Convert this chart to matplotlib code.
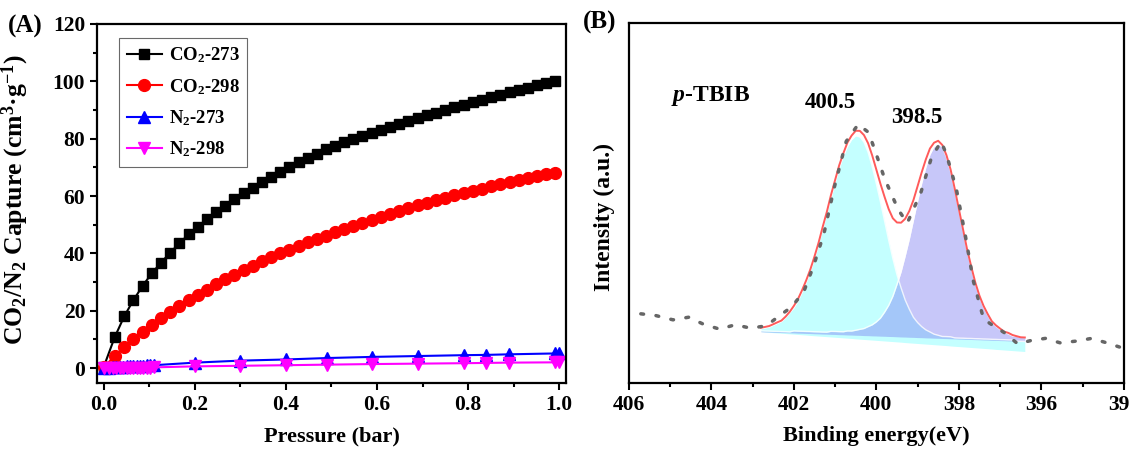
import matplotlib
matplotlib.use("Agg")
import matplotlib.pyplot as plt
from matplotlib.ticker import MultipleLocator

plt.rcParams["font.family"] = "Liberation Serif"
plt.rcParams["font.weight"] = "bold"
plt.rcParams["axes.labelweight"] = "bold"
plt.rcParams["mathtext.fontset"] = "custom"
plt.rcParams["mathtext.rm"] = "Liberation Serif:bold"
plt.rcParams["mathtext.bf"] = "Liberation Serif:bold"
plt.rcParams["mathtext.it"] = "Liberation Serif:italic:bold"

# (A) gas uptake, cm3/g vs bar
p_co2 = [0, 0.024, 0.045, 0.065, 0.085, 0.105, 0.126, 0.146, 0.166, 0.186,
         0.206, 0.226, 0.246, 0.266, 0.287, 0.307, 0.327, 0.347, 0.367, 0.387,
         0.407, 0.428, 0.448, 0.468, 0.488, 0.508, 0.528, 0.548, 0.568, 0.589,
         0.609, 0.629, 0.649, 0.669, 0.690, 0.710, 0.730, 0.750, 0.770, 0.791,
         0.811, 0.831, 0.851, 0.871, 0.892, 0.912, 0.932, 0.952, 0.972, 0.992]
co2_273 = [0.5, 10.8, 18.1, 23.7, 28.6, 33.0, 36.8, 40.3, 43.5, 46.6,
           49.3, 51.9, 54.4, 56.6, 58.9, 61.0, 62.9, 64.9, 66.7, 68.4,
           70.1, 71.7, 73.2, 74.8, 76.3, 77.6, 78.8, 79.9, 81.0, 82.1,
           83.2, 84.2, 85.2, 86.2, 87.2, 88.2, 89.1, 90.0, 90.9, 91.9,
           92.7, 93.6, 94.5, 95.3, 96.2, 97.0, 97.8, 98.6, 99.3, 100.0]
co2_298 = [0.3, 4.2, 7.4, 10.2, 12.7, 15.0, 17.3, 19.4, 21.6, 23.6,
           25.5, 27.4, 29.2, 30.9, 32.6, 34.2, 35.7, 37.2, 38.6, 40.0,
           41.3, 42.6, 43.9, 45.0, 46.2, 47.3, 48.5, 49.6, 50.7, 51.8,
           52.8, 53.8, 54.8, 55.8, 56.7, 57.6, 58.5, 59.4, 60.2, 61.0,
           61.8, 62.6, 63.4, 64.1, 64.9, 65.6, 66.2, 66.9, 67.6, 68.2]
p_n2 = [0, 0.012, 0.02, 0.027, 0.035, 0.042, 0.05, 0.057, 0.065, 0.072,
        0.08, 0.087, 0.095, 0.102, 0.11, 0.2, 0.3, 0.4, 0.49, 0.59,
        0.69, 0.79, 0.84, 0.89, 0.99, 1.0]
n2_273 = [0, 0.2, 0.3, 0.4, 0.5, 0.55, 0.6, 0.65, 0.7, 0.75,
          0.8, 0.85, 0.9, 0.95, 1.0, 1.9, 2.6, 3.0, 3.5, 3.9,
          4.2, 4.5, 4.6, 4.8, 5.1, 5.1]
n2_298 = [0, -0.1, -0.1, -0.05, 0, 0, 0.05, 0.05, 0.1, 0.1,
          0.15, 0.15, 0.2, 0.2, 0.25, 0.6, 0.8, 1.0, 1.2, 1.4,
          1.55, 1.7, 1.8, 1.9, 2.0, 2.0]

# (B) XPS N1s of p-TBIB, arbitrary intensity units
be_raw = [405.71, 405.35, 404.93, 404.55, 404.2, 403.8, 403.42, 403.05, 402.67, 402.34,
          402.05, 401.76, 401.52, 401.27, 401.02, 400.73, 400.44, 400.19, 400.05, 399.8,
          399.47, 399.25, 398.92, 398.67, 398.43, 398.3, 398.06, 397.85, 397.65, 397.4,
          397.25, 396.9, 396.57, 396.24, 395.9, 395.54, 395.15, 394.78, 394.41, 394.04]
int_raw = [69, 67.3, 63, 65.6, 58.8, 53.7, 58.1, 54.7, 57, 67.3,
           76, 91, 117, 149, 195, 241, 258, 250, 234, 204,
           173, 159.5, 190, 224, 241, 228, 193.5, 149, 102, 64,
           59.5, 50.3, 39, 42.5, 44.5, 40, 41.8, 44.5, 40, 35]

be_fit = [402.8, 402.7, 402.6, 402.5, 402.4, 402.3, 402.2, 402.1, 402.0, 401.9,
          401.8, 401.7, 401.6, 401.5, 401.4, 401.3, 401.2, 401.1, 401.0, 400.9,
          400.8, 400.7, 400.6, 400.5, 400.4, 400.3, 400.2, 400.1, 400.0, 399.9,
          399.8, 399.7, 399.6, 399.5, 399.4, 399.3, 399.2, 399.1, 399.0, 398.9,
          398.8, 398.7, 398.6, 398.5, 398.4, 398.3, 398.2, 398.1, 398.0, 397.9,
          397.8, 397.7, 397.6, 397.5, 397.4, 397.3, 397.2, 397.1, 397.0, 396.9,
          396.8, 396.7, 396.6, 396.5, 396.4]
peak_400 = [3, 4, 5, 7, 9, 11, 15, 20, 25, 32,
            41, 51, 62, 75, 89, 105, 120, 136, 151, 166,
            178, 188, 195, 199, 198, 193, 183, 169, 152, 134,
            115, 96, 78, 62, 49, 37, 28, 20, 15, 11,
            8, 6, 4, 3, 2, 2, 2, 1, 1, 1,
            1, 1, 1, 1, 1, 1, 1, 1, 1, 1,
            1, 1, 0, 0, 0]
peak_398 = [1, 1, 1, 1, 1, 1, 1, 1, 2, 2,
            2, 2, 2, 2, 2, 2, 2, 3, 3, 3,
            3, 4, 4, 5, 6, 7, 9, 11, 14, 18,
            24, 31, 40, 52, 65, 81, 98, 117, 136, 154,
            170, 183, 191, 194, 191, 181, 167, 149, 129, 109,
            89, 72, 56, 43, 33, 25, 18, 14, 11, 8,
            7, 5, 5, 4, 4]
base_398 = [51.1, 50.9, 50.8, 50.6, 50.5, 50.3, 50.2, 50.0, 49.9, 49.7,
            49.6, 49.4, 49.3, 49.1, 49.0, 48.8, 48.7, 48.5, 48.4, 48.2,
            48.1, 47.9, 47.8, 47.6, 47.5, 47.3, 47.2, 47.0, 46.9, 46.7,
            46.6, 46.4, 46.3, 46.1, 45.9, 45.8, 45.6, 45.5, 45.3, 45.2,
            45.0, 44.9, 44.7, 44.6, 44.4, 44.3, 44.1, 44.0, 43.8, 43.7,
            43.5, 43.4, 43.2, 43.1, 42.9, 42.8, 42.6, 42.5, 42.3, 42.2,
            42.0, 41.9, 41.7, 41.6, 41.4]
base_400 = [51.2, 50.8, 50.5, 50.2, 49.9, 49.6, 49.3, 49.0, 48.7, 48.4,
            48.1, 47.8, 47.4, 47.1, 46.8, 46.5, 46.2, 45.9, 45.6, 45.3,
            45.0, 44.7, 44.4, 44.0, 43.7, 43.4, 43.1, 42.8, 42.5, 42.2,
            41.9, 41.6, 41.3, 41.0, 40.7, 40.3, 40.0, 39.7, 39.4, 39.1,
            38.8, 38.5, 38.2, 37.9, 37.6, 37.3, 36.9, 36.6, 36.3, 36.0,
            35.7, 35.4, 35.1, 34.8, 34.5, 34.2, 33.9, 33.5, 33.2, 32.9,
            32.6, 32.3, 32.0, 31.7, 31.4]

top_400 = [b + h for b, h in zip(base_398, peak_400)]
top_398 = [b + h for b, h in zip(base_398, peak_398)]
envelope = [b + h1 + h2 for b, h1, h2 in zip(base_398, peak_400, peak_398)]

fig = plt.figure(figsize=(11.29, 4.51), dpi=100)

ax1 = fig.add_axes([0.0859, 0.1508, 0.4154, 0.796])
ax1.plot(p_co2, co2_273, "-s", color="black", ms=7.5, lw=1.5, label="CO$_2$-273")
ax1.plot(p_co2, co2_298, "-o", color="red", ms=8.5, lw=1.5, label="CO$_2$-298")
ax1.plot(p_n2, n2_273, "-^", color="blue", ms=9, lw=1.5, label="N$_2$-273")
ax1.plot(p_n2, n2_298, "-v", color="magenta", ms=9, lw=1.5, label="N$_2$-298")
ax1.set_xlim(-0.015, 1.015)
ax1.set_ylim(-5.2, 120)
ax1.xaxis.set_minor_locator(MultipleLocator(0.1))
ax1.yaxis.set_major_locator(MultipleLocator(20))
ax1.yaxis.set_minor_locator(MultipleLocator(10))
ax1.set_xticks([0, 0.2, 0.4, 0.6, 0.8, 1.0])
ax1.set_xticklabels(["0.0", "0.2", "0.4", "0.6", "0.8", "1.0"])
ax1.set_xlabel("Pressure (bar)", fontsize=16)
ax1.set_ylabel("CO$_2$/N$_2$ Capture (cm$^3$·g$^{-1}$)", fontsize=18.5)
ax1.xaxis.set_label_coords(0.5, -0.12)
ax1.yaxis.set_label_coords(-0.14, 0.51)
leg = ax1.legend(loc="upper left", bbox_to_anchor=(0.047, 0.961), borderaxespad=0,
                 fontsize=13.5, fancybox=False, edgecolor="#444444",
                 handlelength=1.9, handletextpad=0.35, labelspacing=0.62,
                 borderpad=0.4)
leg.get_frame().set_linewidth(0.8)

ax2 = fig.add_axes([0.557, 0.1508, 0.4384, 0.798])
ax2.fill_between(be_fit, base_400, top_400, color="#00ffff", alpha=0.23, lw=0, zorder=1)
ax2.fill_between(be_fit, base_398, top_398, color="#7575f0", alpha=0.4, lw=0, zorder=2)
ax2.plot(be_fit, top_400, color="white", lw=1, alpha=0.8, zorder=2.5)
ax2.plot(be_fit, top_398, color="white", lw=1, alpha=0.8, zorder=2.5)
ax2.plot(be_fit, envelope, color="#ff5a5a", lw=1.4, zorder=3)
ax2.plot(be_raw, int_raw, color="#666666", lw=2.5, dashes=(0.8, 3.6),
         dash_capstyle="round", zorder=4)
ax2.set_xlim(406, 394)
ax2.set_ylim(0, 359)
ax2.set_yticks([])
ax2.xaxis.set_major_locator(MultipleLocator(2))
ax2.xaxis.set_minor_locator(MultipleLocator(1))
ax2.set_xlabel("Binding energy(eV)", fontsize=16)
ax2.set_ylabel("Intensity (a.u.)", fontsize=17)
ax2.xaxis.set_label_coords(0.5, -0.12)
ax2.yaxis.set_label_coords(-0.028, 0.46)
ax2.text(404.98, 286, "$p$-TBIB", ha="left", va="center", fontsize=17)
ax2.text(401.11, 280, "400.5", ha="center", va="center", fontsize=16.5)
ax2.text(399.03, 265, "398.5", ha="center", va="center", fontsize=16.5)

for ax in (ax1, ax2):
    for s in ax.spines.values():
        s.set_linewidth(1.6)
    ax.tick_params(which="both", direction="out", top=False, right=False,
                   width=1.5, labelsize=15.5)
    ax.tick_params(which="major", length=5)
    ax.tick_params(which="minor", length=3)

fig.text(0.007, 0.942, "(A)", fontsize=18, va="center", ha="left")
fig.text(0.516, 0.95, "(B)", fontsize=18, va="center", ha="left")

fig.savefig("out.png", dpi=100)
